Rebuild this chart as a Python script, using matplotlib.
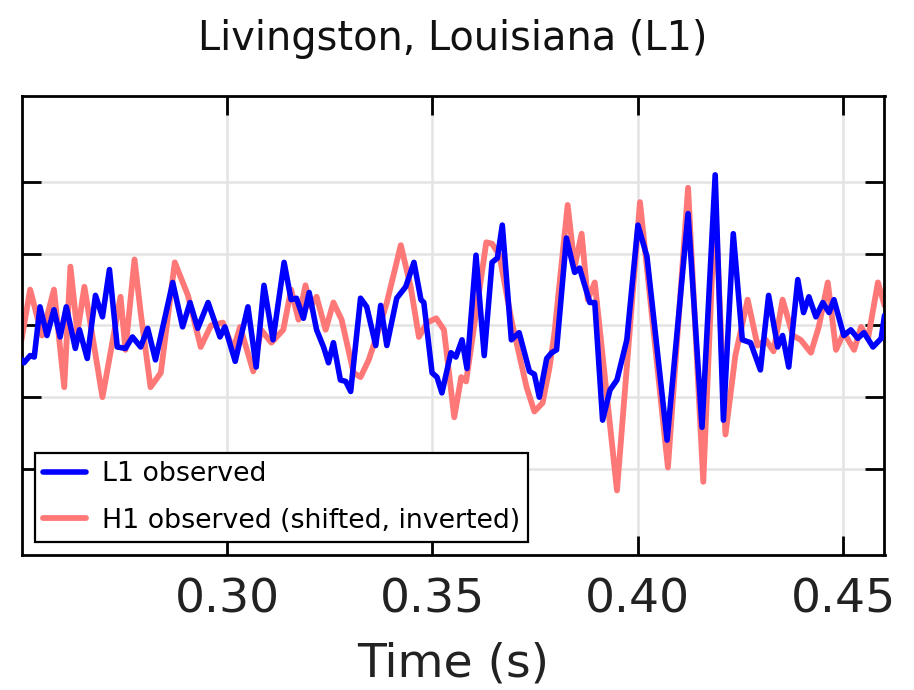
import matplotlib
matplotlib.use("Agg")
import matplotlib.pyplot as plt

# L1 observed strain (10^-21) vs time (s)
t_L1 = [0.2501, 0.2506, 0.2521, 0.2531, 0.2545, 0.2562, 0.2579, 0.2594, 0.2609, 0.2631,
        0.2641, 0.2660, 0.2680, 0.2697, 0.2714, 0.2733, 0.2753, 0.2770, 0.2790, 0.2807,
        0.2826, 0.2868, 0.2892, 0.2910, 0.2929, 0.2954, 0.2983, 0.2995, 0.3020, 0.3051,
        0.3071, 0.3090, 0.3112, 0.3139, 0.3156, 0.3169, 0.3186, 0.3200, 0.3218, 0.3235,
        0.3247, 0.3259, 0.3276, 0.3289, 0.3301, 0.3325, 0.3340, 0.3362, 0.3374, 0.3389,
        0.3413, 0.3435, 0.3455, 0.3472, 0.3479, 0.3499, 0.3511, 0.3523, 0.3545, 0.3557,
        0.3572, 0.3584, 0.3606, 0.3626, 0.3645, 0.3658, 0.3670, 0.3692, 0.3711, 0.3736,
        0.3748, 0.3760, 0.3778, 0.3790, 0.3802, 0.3826, 0.3846, 0.3858, 0.3883, 0.3895,
        0.3914, 0.3932, 0.3949, 0.3973, 0.4000, 0.4022, 0.4071, 0.4122, 0.4156, 0.4188,
        0.4208, 0.4232, 0.4254, 0.4274, 0.4298, 0.4318, 0.4340, 0.4352, 0.4367, 0.4389,
        0.4403, 0.4416, 0.4433, 0.4450, 0.4465, 0.4477, 0.4501, 0.4518, 0.4535, 0.4550,
        0.4572, 0.4592, 0.4600]
h_L1 = [-0.24, -0.26, -0.21, -0.22, 0.13, -0.07, 0.11, -0.08, 0.13, -0.16,
        -0.03, -0.23, 0.21, 0.06, 0.39, -0.15, -0.16, -0.08, -0.15, -0.02,
        -0.24, 0.30, -0.01, 0.16, -0.02, 0.16, -0.08, -0.01, -0.25, 0.13,
        -0.29, 0.28, -0.10, 0.44, 0.18, 0.19, 0.05, 0.23, -0.03, -0.15,
        -0.26, -0.12, -0.38, -0.39, -0.46, 0.19, 0.13, -0.14, 0.14, -0.14,
        0.19, 0.27, 0.44, 0.18, 0.16, -0.33, -0.36, -0.47, -0.19, -0.22,
        -0.10, -0.30, 0.49, -0.21, 0.44, 0.47, 0.70, -0.10, -0.05, -0.32,
        -0.34, -0.50, -0.23, -0.19, -0.17, 0.61, 0.37, 0.40, 0.16, 0.16,
        -0.66, -0.45, -0.38, -0.10, 0.70, 0.48, -0.80, 0.78, -0.71, 1.05,
        -0.66, 0.64, -0.10, -0.12, -0.31, 0.21, -0.15, -0.07, -0.29, 0.32,
        0.09, 0.20, 0.06, 0.16, 0.09, 0.18, -0.07, -0.03, -0.09, -0.05,
        -0.15, -0.09, 0.07]

# H1 observed (shifted, inverted)
t_H1 = [0.2500, 0.2521, 0.2550, 0.2579, 0.2604, 0.2619, 0.2636, 0.2653, 0.2697, 0.2741,
        0.2753, 0.2775, 0.2790, 0.2814, 0.2839, 0.2873, 0.2905, 0.2936, 0.2961, 0.2990,
        0.3015, 0.3032, 0.3064, 0.3083, 0.3108, 0.3137, 0.3156, 0.3174, 0.3191, 0.3203,
        0.3218, 0.3240, 0.3259, 0.3279, 0.3308, 0.3325, 0.3345, 0.3369, 0.3389, 0.3423,
        0.3447, 0.3467, 0.3487, 0.3509, 0.3528, 0.3553, 0.3570, 0.3582, 0.3631, 0.3645,
        0.3663, 0.3692, 0.3729, 0.3748, 0.3768, 0.3785, 0.3797, 0.3829, 0.3846, 0.3863,
        0.3878, 0.3895, 0.3949, 0.4005, 0.4073, 0.4122, 0.4159, 0.4188, 0.4213, 0.4237,
        0.4267, 0.4291, 0.4311, 0.4330, 0.4352, 0.4377, 0.4396, 0.4421, 0.4440, 0.4462,
        0.4482, 0.4501, 0.4526, 0.4543, 0.4560, 0.4584, 0.4600]
h_H1 = [-0.10, 0.25, -0.07, 0.25, -0.43, 0.41, -0.05, 0.27, -0.50, 0.20,
        -0.17, 0.46, 0.09, -0.43, -0.33, 0.44, 0.21, -0.15, 0.00, 0.02,
        -0.17, -0.01, -0.32, -0.03, -0.12, -0.03, 0.25, 0.04, 0.28, 0.13,
        0.20, -0.03, 0.16, 0.04, -0.33, -0.36, -0.24, -0.03, 0.16, 0.56,
        0.27, -0.08, 0.02, 0.05, -0.03, -0.64, -0.36, -0.39, 0.58, 0.57,
        0.49, 0.04, -0.43, -0.60, -0.54, -0.29, -0.05, 0.84, 0.41, 0.64,
        0.18, 0.30, -1.15, 0.86, -0.99, 0.96, -1.09, 0.87, -0.76, -0.21,
        0.18, -0.14, -0.10, -0.18, 0.18, -0.07, -0.10, -0.19, -0.01, 0.30,
        -0.17, -0.05, -0.17, -0.01, -0.09, 0.30, 0.14]

x_ticks = [0.30, 0.35, 0.40, 0.45]
x_tick_labels = ["0.30", "0.35", "0.40", "0.45"]
y_ticks = [-1.0, -0.5, 0.0, 0.5, 1.0]

fig = plt.figure(figsize=(9.14, 6.9), dpi=100)
ax = fig.add_axes([21.5 / 914, 0.1957, 863 / 914, 0.6652])

ax.plot(t_H1, h_H1, color="#ff7878", lw=4.2, solid_joinstyle="round",
        solid_capstyle="round", label="H1 observed (shifted, inverted)", zorder=2)
ax.plot(t_L1, h_L1, color="#0000ff", lw=4.0, solid_joinstyle="round",
        solid_capstyle="round", label="L1 observed", zorder=3)

ax.set_xlim(0.25, 0.46)
ax.set_ylim(-1.6, 1.6)
ax.set_xticks(x_ticks)
ax.set_xticklabels(x_tick_labels)
ax.set_yticks(y_ticks)
ax.set_yticklabels([])
ax.grid(True, color="#e4e4e4", lw=1.8)
ax.set_axisbelow(True)
ax.tick_params(axis="both", direction="in", length=14, width=2,
               top=True, right=True, labelsize=34, pad=16, colors="black")
ax.tick_params(axis="x", labelcolor="#222222")
for sp in ax.spines.values():
    sp.set_linewidth(2)
    sp.set_color("black")

ax.set_title("Livingston, Louisiana (L1)", fontsize=28.7, pad=33, color="#111111")
ax.set_xlabel("Time (s)", fontsize=34, labelpad=14, color="#222222")

handles, labels = ax.get_legend_handles_labels()
leg = ax.legend(handles[::-1], labels[::-1], loc="lower left", fontsize=19.3,
                frameon=True, fancybox=False, framealpha=1, edgecolor="black",
                handlelength=1.6, borderaxespad=0.5, borderpad=0.3,
                labelspacing=0.77, handletextpad=0.6)
leg.get_frame().set_linewidth(1.6)

fig.savefig("out.png", dpi=100)
